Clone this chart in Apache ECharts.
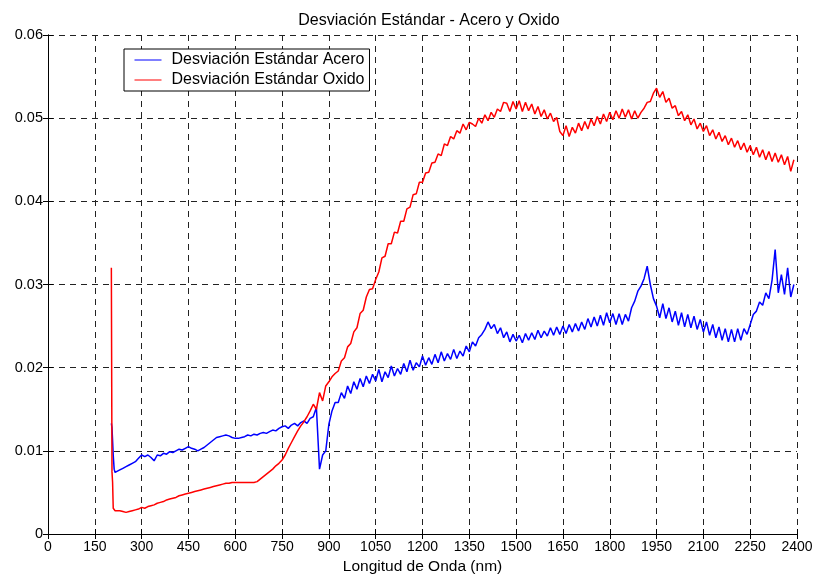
<!DOCTYPE html>
<html>
<head>
<meta charset="utf-8">
<script src="https://cdn.jsdelivr.net/npm/echarts@6/dist/echarts.min.js"></script>
<style>
html,body{margin:0;padding:0;background:#fff;}
#chart{width:818px;height:581px;}
</style>
</head>
<body>
<div id="chart"></div>
<script>
// Wavelengths (nm)
const wavelengths = [
  203, 205, 207, 209, 212, 215, 220,
  230, 240, 250, 260, 270, 280, 290, 300, 310, 320,
  330, 340, 350, 360, 370, 380, 390, 400, 410, 420,
  430, 440, 450, 460, 470, 480, 490, 500, 510, 520,
  530, 540, 550, 560, 570, 580, 590, 600, 610, 620,
  630, 640, 650, 660, 670, 680, 690, 700, 710, 720,
  730, 740, 750, 760, 770, 780, 790, 800, 810, 820,
  830, 840, 850, 860, 870, 880, 890, 900, 910, 920,
  930, 940, 950, 960, 970, 980, 990, 1000, 1010, 1020,
  1030, 1040, 1050, 1060, 1070, 1080, 1090, 1100, 1110, 1120,
  1130, 1140, 1150, 1160, 1170, 1180, 1190, 1200, 1210, 1220,
  1230, 1240, 1250, 1260, 1270, 1280, 1290, 1300, 1310, 1320,
  1330, 1340, 1350, 1360, 1370, 1380, 1390, 1400, 1410, 1420,
  1430, 1440, 1450, 1460, 1470, 1480, 1490, 1500, 1510, 1520,
  1530, 1540, 1550, 1560, 1570, 1580, 1590, 1600, 1610, 1620,
  1630, 1640, 1650, 1660, 1670, 1680, 1690, 1700, 1710, 1720,
  1730, 1740, 1750, 1760, 1770, 1780, 1790, 1800, 1810, 1820,
  1830, 1840, 1850, 1860, 1870, 1880, 1890, 1900, 1910, 1920,
  1930, 1940, 1950, 1960, 1970, 1980, 1990, 2000, 2010, 2020,
  2030, 2040, 2050, 2060, 2070, 2080, 2090, 2100, 2110, 2120,
  2130, 2140, 2150, 2160, 2170, 2180, 2190, 2200, 2210, 2220,
  2230, 2240, 2250, 2260, 2270, 2280, 2290, 2300, 2310, 2320,
  2330, 2340, 2350, 2360, 2370, 2380, 2390
];

// Desviación Estándar Acero
const acero = [
  0.0133, 0.0128, 0.0112, 0.0095, 0.0078, 0.0074, 0.0073,
  0.0077, 0.0079, 0.0081, 0.0083, 0.0085, 0.0087, 0.0091, 0.0095, 0.0093, 0.0095,
  0.0092, 0.0088, 0.0095, 0.0094, 0.0097, 0.0096, 0.0099, 0.0098, 0.0100, 0.0102,
  0.0101, 0.0103, 0.0105, 0.0103, 0.0102, 0.0100, 0.0102, 0.0104, 0.0107, 0.0110,
  0.0113, 0.0116, 0.0117, 0.0118, 0.0119, 0.0118, 0.0116, 0.0115, 0.0115, 0.0116,
  0.0117, 0.0119, 0.0118, 0.0120, 0.0119, 0.0121, 0.0122, 0.0121, 0.0123, 0.0125,
  0.0124, 0.0127, 0.0129, 0.0130, 0.0127, 0.0131, 0.0133, 0.0130, 0.0134, 0.0136,
  0.0133, 0.0139, 0.0141, 0.0152, 0.0078, 0.0095, 0.0100, 0.0132, 0.0148, 0.0158,
  0.0158, 0.0170, 0.0163, 0.0178, 0.0169, 0.0183, 0.0174, 0.0187, 0.0177, 0.0190,
  0.0181, 0.0192, 0.0184, 0.0198, 0.0183, 0.0195, 0.0188, 0.0202, 0.0190, 0.0199,
  0.0192, 0.0205, 0.0195, 0.0209, 0.0197, 0.0206, 0.0201, 0.0214, 0.0203, 0.0212,
  0.0204, 0.0216, 0.0206, 0.0219, 0.0208, 0.0217, 0.0210, 0.0222, 0.0211, 0.0220,
  0.0214, 0.0226, 0.0219, 0.0231, 0.0226, 0.0236, 0.0240, 0.0246, 0.0255, 0.0247,
  0.0252, 0.0241, 0.0248, 0.0236, 0.0243, 0.0231, 0.0240, 0.0232, 0.0239, 0.0230,
  0.0241, 0.0233, 0.0242, 0.0234, 0.0245, 0.0236, 0.0244, 0.0238, 0.0248, 0.0239,
  0.0249, 0.0240, 0.0250, 0.0241, 0.0252, 0.0243, 0.0253, 0.0244, 0.0255, 0.0246,
  0.0259, 0.0249, 0.0261, 0.0250, 0.0263, 0.0251, 0.0266, 0.0254, 0.0265, 0.0252,
  0.0265, 0.0252, 0.0264, 0.0256, 0.0272, 0.0280, 0.0292, 0.0298, 0.0307, 0.0322,
  0.0300, 0.0283, 0.0274, 0.0260, 0.0277, 0.0259, 0.0272, 0.0255, 0.0268, 0.0251,
  0.0266, 0.0249, 0.0264, 0.0248, 0.0262, 0.0246, 0.0258, 0.0243, 0.0255, 0.0239,
  0.0252, 0.0236, 0.0249, 0.0233, 0.0247, 0.0231, 0.0246, 0.0231, 0.0247, 0.0233,
  0.0247, 0.0240, 0.0252, 0.0264, 0.0268, 0.0279, 0.0275, 0.0290, 0.0283, 0.0305,
  0.0342, 0.0290, 0.0312, 0.0288, 0.0320, 0.0285, 0.0300
];

// Desviación Estándar Oxido
const oxido = [
  0.0320, 0.0075, 0.0062, 0.0031, 0.0029, 0.0028, 0.0028,
  0.0028, 0.0027, 0.0026, 0.0027, 0.0028, 0.0029, 0.0030, 0.0032, 0.0031, 0.0033,
  0.0034, 0.0035, 0.0037, 0.0038, 0.0039, 0.0041, 0.0042, 0.0043, 0.0044, 0.0046,
  0.0047, 0.0048, 0.0049, 0.0050, 0.0051, 0.0052, 0.0053, 0.0054, 0.0055, 0.0056,
  0.0057, 0.0058, 0.0059, 0.0060, 0.0061, 0.0061, 0.0062, 0.0062, 0.0062, 0.0062,
  0.0062, 0.0062, 0.0062, 0.0062, 0.0063, 0.0066, 0.0069, 0.0072, 0.0075, 0.0078,
  0.0082, 0.0085, 0.0089, 0.0095, 0.0103, 0.0110, 0.0117, 0.0124, 0.0130, 0.0135,
  0.0141, 0.0148, 0.0156, 0.0150, 0.0170, 0.0160, 0.0178, 0.0183, 0.0189, 0.0193,
  0.0196, 0.0208, 0.0212, 0.0225, 0.0229, 0.0243, 0.0248, 0.0265, 0.0269, 0.0285,
  0.0294, 0.0295, 0.0306, 0.0315, 0.0332, 0.0334, 0.0349, 0.0349, 0.0363, 0.0362,
  0.0376, 0.0376, 0.0391, 0.0393, 0.0408, 0.0409, 0.0423, 0.0423, 0.0434, 0.0435,
  0.0446, 0.0447, 0.0457, 0.0455, 0.0469, 0.0467, 0.0478, 0.0475, 0.0485, 0.0482,
  0.0493, 0.0486, 0.0495, 0.0493, 0.0490, 0.0500, 0.0494, 0.0504, 0.0497, 0.0507,
  0.0501, 0.0511, 0.0508, 0.0519, 0.0518, 0.0508, 0.0520, 0.0511, 0.0521, 0.0508,
  0.0519, 0.0509, 0.0517, 0.0505, 0.0514, 0.0502, 0.0510, 0.0499, 0.0506, 0.0496,
  0.0501, 0.0484, 0.0479, 0.0491, 0.0478, 0.0489, 0.0482, 0.0494, 0.0485, 0.0496,
  0.0487, 0.0499, 0.0491, 0.0502, 0.0493, 0.0505, 0.0496, 0.0507, 0.0498, 0.0509,
  0.0500, 0.0511, 0.0501, 0.0510, 0.0499, 0.0509, 0.0500, 0.0507, 0.0512, 0.0519,
  0.0520, 0.0530, 0.0536, 0.0525, 0.0532, 0.0519, 0.0524, 0.0512, 0.0515, 0.0503,
  0.0508, 0.0497, 0.0504, 0.0492, 0.0499, 0.0487, 0.0494, 0.0484, 0.0491, 0.0479,
  0.0486, 0.0475, 0.0483, 0.0472, 0.0479, 0.0468, 0.0476, 0.0465, 0.0473, 0.0462,
  0.0470, 0.0459, 0.0467, 0.0456, 0.0465, 0.0453, 0.0462, 0.0450, 0.0460, 0.0448,
  0.0458, 0.0447, 0.0456, 0.0444, 0.0454, 0.0436, 0.0450
];

const xTicks = [0, 150, 300, 450, 600, 750, 900, 1050, 1200, 1350, 1500, 1650, 1800, 1950, 2100, 2250, 2400];
const yTicks = [0, 0.01, 0.02, 0.03, 0.04, 0.05, 0.06];

const seriesNames = ['Desviación Estándar Acero', 'Desviación Estándar Oxido'];
const seriesColors = ['#0000ff', '#ff0000'];
const titleText = 'Desviación Estándar - Acero y Oxido';
const xName = 'Longitud de Onda (nm)';

const FONT = 'Liberation Sans, Arial, sans-serif';

const chart = echarts.init(document.getElementById('chart'), null, {renderer: 'canvas'});

const gridLine = {show: true, lineStyle: {color: '#222', width: 1, type: [6, 5]}};

const option = {
  animation: false,
  backgroundColor: '#fff',
  title: {
    text: titleText,
    left: 424, top: 8, textAlign: 'center',
    textStyle: {fontFamily: FONT, fontSize: 16, fontWeight: 'normal', color: '#000'}
  },
  legend: {
    orient: 'vertical',
    left: 124, top: 49,
    padding: [3, 5, 3, 10],
    itemGap: 4,
    itemWidth: 27, itemHeight: 16,
    backgroundColor: '#fff',
    borderColor: '#000', borderWidth: 1,
    itemStyle: {opacity: 0},
    lineStyle: {width: 1},
    textStyle: {fontFamily: FONT, fontSize: 16, color: '#000', padding: [0, 0, 0, 5]},
    data: seriesNames
  },
  grid: {left: 48, right: 21, top: 35, bottom: 47, containLabel: false},
  xAxis: [{
    type: 'value', min: xTicks[0], max: xTicks[xTicks.length - 1], interval: xTicks[1] - xTicks[0],
    name: xName, nameLocation: 'middle', nameGap: 25,
    nameTextStyle: {fontFamily: FONT, fontSize: 15.5, color: '#000'},
    axisLine: {show: true, lineStyle: {color: '#000', width: 1}},
    axisTick: {show: true, inside: true, length: 5, lineStyle: {color: '#000'}},
    axisLabel: {margin: 6, fontFamily: FONT, fontSize: 14, color: '#000',
      formatter: v => String(v)},
    splitLine: gridLine
  }, {
    type: 'value', position: 'top', min: xTicks[0], max: xTicks[xTicks.length - 1], interval: xTicks[1] - xTicks[0],
    axisLine: {show: true, lineStyle: {color: '#000', width: 1}},
    axisTick: {show: true, inside: true, length: 5, lineStyle: {color: '#000'}},
    axisLabel: {show: false}, splitLine: {show: false}
  }],
  yAxis: [{
    type: 'value', min: yTicks[0], max: yTicks[yTicks.length - 1], interval: yTicks[1] - yTicks[0],
    axisLine: {show: true, lineStyle: {color: '#000', width: 1}},
    axisTick: {show: true, inside: true, length: 5, lineStyle: {color: '#000'}},
    axisLabel: {margin: 5, fontFamily: FONT, fontSize: 14.5, color: '#000',
      formatter: v => (Math.round(v * 100) / 100).toString()},
    splitLine: gridLine
  }, {
    type: 'value', position: 'right', min: yTicks[0], max: yTicks[yTicks.length - 1], interval: yTicks[1] - yTicks[0],
    axisLine: {show: true, lineStyle: {color: '#000', width: 1}},
    axisTick: {show: true, inside: true, length: 5, lineStyle: {color: '#000'}},
    axisLabel: {show: false}, splitLine: {show: false}
  }],
  series: [{
    name: seriesNames[0], type: 'line', xAxisIndex: 0, yAxisIndex: 0,
    data: wavelengths.map((w, i) => [w, acero[i]]),
    symbol: 'none', z: 3,
    itemStyle: {color: seriesColors[0]},
    lineStyle: {color: seriesColors[0], width: 1.5}
  }, {
    name: seriesNames[1], type: 'line', xAxisIndex: 0, yAxisIndex: 0,
    data: wavelengths.map((w, i) => [w, oxido[i]]),
    symbol: 'none', z: 4,
    itemStyle: {color: seriesColors[1]},
    lineStyle: {color: seriesColors[1], width: 1.5}
  }]
};
chart.setOption(option);
if (wavelengths.length !== acero.length || wavelengths.length !== oxido.length) {
  document.body.insertAdjacentHTML('beforeend', '<p>LEN MISMATCH ' + wavelengths.length + ' ' + acero.length + ' ' + oxido.length + '</p>');
}
</script>
</body>
</html>
